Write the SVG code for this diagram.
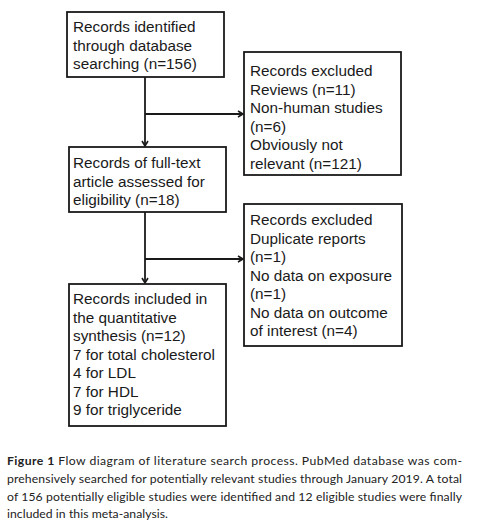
<svg xmlns="http://www.w3.org/2000/svg" width="482" height="523" viewBox="0 0 482 523">
<style>
.box{fill:#fff;stroke:#1a1a1a;stroke-width:1.8}
.t{font-family:"Liberation Sans",Arial,sans-serif;font-size:15.3px;fill:#1a1a1a}
.c{font-family:Lato,"Liberation Sans",sans-serif;font-size:12.2px;fill:#222}
.ln{fill:none;stroke:#1a1a1a;stroke-width:1.8}
</style>
<defs>
<marker id="ah" markerWidth="8" markerHeight="8" refX="6" refY="4" orient="auto" markerUnits="userSpaceOnUse">
<path d="M1,1 L6,4 L1,7" fill="none" stroke="#1a1a1a" stroke-width="1.6"/>
</marker>
</defs>
<rect width="482" height="523" fill="#fff"/>
<g id="connectors">
<line class="ln" x1="145" y1="77" x2="145" y2="146" marker-end="url(#ah)"/>
<line class="ln" x1="145" y1="114" x2="243" y2="114" marker-end="url(#ah)"/>
<line class="ln" x1="145" y1="212" x2="145" y2="283" marker-end="url(#ah)"/>
<line class="ln" x1="145" y1="259" x2="243" y2="259" marker-end="url(#ah)"/>
</g>
<g id="n1">
<rect class="box" x="67" y="12" width="157" height="65"/>
<text class="t" x="73"><tspan x="73" y="32">Records identified</tspan><tspan x="73" y="50.5">through database</tspan><tspan x="73" y="69">searching (n=156)</tspan></text>
</g>
<g id="n2">
<rect class="box" x="244" y="52" width="157" height="123"/>
<text class="t"><tspan x="250" y="76">Records excluded</tspan><tspan x="250" y="94.5">Reviews (n=11)</tspan><tspan x="250" y="113">Non-human studies</tspan><tspan x="250" y="131.5">(n=6)</tspan><tspan x="250" y="150">Obviously not</tspan><tspan x="250" y="168.5">relevant (n=121)</tspan></text>
</g>
<g id="n3">
<rect class="box" x="69" y="147" width="157" height="65"/>
<text class="t"><tspan x="73" y="168">Records of full-text</tspan><tspan x="73" y="186.5">article assessed for</tspan><tspan x="73" y="205">eligibility (n=18)</tspan></text>
</g>
<g id="n4">
<rect class="box" x="244" y="204" width="158" height="142"/>
<text class="t"><tspan x="250" y="225">Records excluded</tspan><tspan x="250" y="243.5">Duplicate reports</tspan><tspan x="250" y="262">(n=1)</tspan><tspan x="250" y="280.5">No data on exposure</tspan><tspan x="250" y="299">(n=1)</tspan><tspan x="250" y="317.5">No data on outcome</tspan><tspan x="250" y="336">of interest (n=4)</tspan></text>
</g>
<g id="n5">
<rect class="box" x="69" y="284" width="157" height="142"/>
<text class="t"><tspan x="73" y="304">Records included in</tspan><tspan x="73" y="322.5">the quantitative</tspan><tspan x="73" y="341">synthesis (n=12)</tspan><tspan x="73" y="359.5">7 for total cholesterol</tspan><tspan x="73" y="378">4 for LDL</tspan><tspan x="73" y="396.5">7 for HDL</tspan><tspan x="73" y="415">9 for triglyceride</tspan></text>
</g>
<g id="caption">
<text class="c" x="7" y="465" textLength="455" lengthAdjust="spacing"><tspan font-weight="bold">Figure 1</tspan> Flow diagram of literature search process. PubMed database was com-</text>
<text class="c" x="7" y="483" textLength="455" lengthAdjust="spacing">prehensively searched for potentially relevant studies through January 2019. A total</text>
<text class="c" x="7" y="500.5" textLength="455" lengthAdjust="spacing">of 156 potentially eligible studies were identified and 12 eligible studies were finally</text>
<text class="c" x="7" y="517.5" textLength="161" lengthAdjust="spacing">included in this meta-analysis.</text>
</g>
</svg>
